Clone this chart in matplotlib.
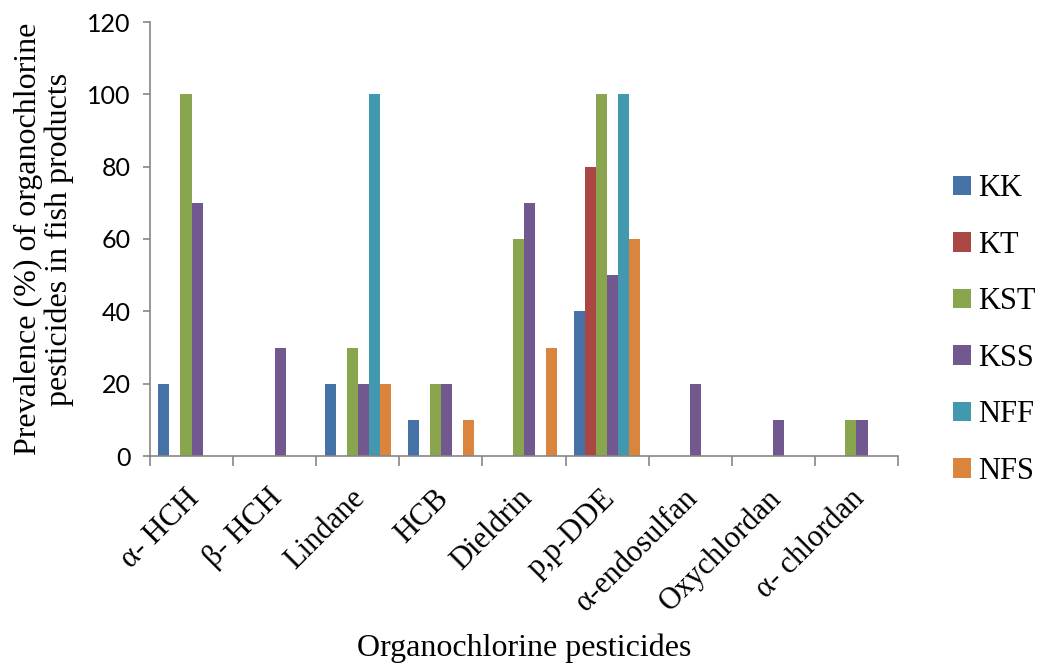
import numpy as np
import matplotlib
matplotlib.use("Agg")
import matplotlib.pyplot as plt
from matplotlib.ticker import FixedLocator
from matplotlib.transforms import ScaledTranslation

# prevalence (%) per pesticide for each sampling group
pesticides = ["α- HCH", "β- HCH", "Lindane", "HCB", "Dieldrin", "p,p-DDE",
              "α-endosulfan", "Oxychlordan", "α- chlordan"]
groups = ["KK", "KT", "KST", "KSS", "NFF", "NFS"]
kk  = [20, 0, 20, 10, 0, 40, 0, 0, 0]
kt  = [0, 0, 0, 0, 0, 80, 0, 0, 0]
kst = [100, 0, 30, 20, 60, 100, 0, 0, 10]
kss = [70, 30, 20, 20, 70, 50, 20, 10, 10]
nff = [0, 0, 100, 0, 0, 100, 0, 0, 0]
nfs = [0, 0, 20, 10, 30, 60, 0, 0, 0]
y_ticks = [0, 20, 40, 60, 80, 100, 120]

series = [kk, kt, kst, kss, nff, nfs]
colors = ["#4572A7", "#AA4643", "#89A54E", "#71588F", "#4198AF", "#DB843D"]

SERIF = ["Liberation Serif", "DejaVu Serif"]
plt.rcParams["font.family"] = SERIF
plt.rcParams["font.size"] = 21

fig = plt.figure(figsize=(10.4, 6.63), dpi=100)
ax = fig.add_axes([150 / 1040, 1 - 456 / 663, 748 / 1040, 434 / 663])

n_cat = len(pesticides)
n_ser = len(series)
bw = 1.0 / (n_ser + 1.5)        # gap width 150% of a bar
x0 = np.arange(n_cat) + 0.75 * bw

for j, (vals, col, name) in enumerate(zip(series, colors, groups)):
    ax.bar(x0 + j * bw, vals, width=bw, align="edge", color=col,
           edgecolor="none", label=name)

ax.set_xlim(0, n_cat)
ax.set_ylim(0, 120)
ax.set_yticks(y_ticks)

axis_col = "#868686"
for s in ["top", "right"]:
    ax.spines[s].set_visible(False)
for s in ["left", "bottom"]:
    ax.spines[s].set_color(axis_col)
    ax.spines[s].set_linewidth(1.2)

# tick marks on category boundaries, labels at category centres
ax.xaxis.set_major_locator(FixedLocator(np.arange(n_cat + 1)))
ax.xaxis.set_minor_locator(FixedLocator(np.arange(n_cat) + 0.5))
ax.set_xticklabels([""] * (n_cat + 1))
ax.set_xticklabels(pesticides, minor=True, rotation=45, ha="right",
                   va="top", rotation_mode="anchor", fontsize=22,
                   fontfamily=SERIF)
ax.tick_params(axis="x", which="major", length=7, width=1.2, color=axis_col)
ax.tick_params(axis="x", which="minor", length=0, pad=20)
ax.tick_params(axis="y", length=5, width=1.2, color=axis_col, pad=9,
               labelsize=18, labelfontfamily="Lato")
shift = ScaledTranslation(-7 / 100, 0, fig.dpi_scale_trans)
for lbl in ax.get_xticklabels(minor=True):
    lbl.set_transform(lbl.get_transform() + shift)

ax.set_xlabel("Organochlorine pesticides", fontsize=23, va="center",
              fontfamily=SERIF)
ax.xaxis.set_label_coords(0.5, (456 - 648) / 434)
ax.set_ylabel("Prevalence (%) of organochlorine\npesticides in fish products",
              fontsize=23, linespacing=1.05, va="center", fontfamily=SERIF)
ax.yaxis.set_label_coords((44 - 150) / 748, 0.5)

leg = ax.legend(loc="center left", bbox_to_anchor=(1.073, 0.29),
                frameon=False, borderpad=0, borderaxespad=0,
                handlelength=0.6, handleheight=0.6, handletextpad=0.25,
                labelspacing=0.9, prop={"family": SERIF, "size": 22})

fig.savefig("out.png", dpi=100, facecolor="white")
